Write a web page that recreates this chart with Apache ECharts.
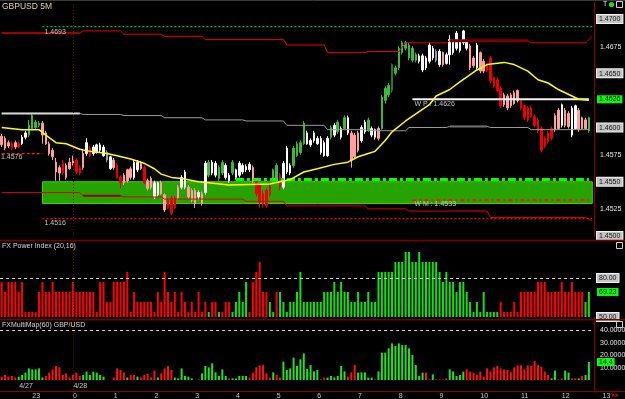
<!DOCTYPE html>
<html>
<head>
<meta charset="utf-8">
<title>GBPUSD 5M</title>
<script src="https://cdn.jsdelivr.net/npm/echarts@6/dist/echarts.min.js"></script>
<style>
  html, body { margin: 0; padding: 0; background: #000; }
  #chart { width: 625px; height: 399px; }
</style>
</head>
<body>
<div id="chart"></div>
<script>
// GBPUSD 5 minute bars, 4/27 22:15 .. 4/28 12:40
// [open, close, low, high]
var ohlc = [
  [1.4592,1.4584,1.4582,1.4594],[1.4590,1.4581,1.4579,1.4592],[1.4586,1.4583,1.4581,1.4588],[1.4585,1.4581,1.4579,1.4587],
  [1.4586,1.4582,1.4580,1.4588],[1.4585,1.4582,1.4581,1.4587],[1.4585,1.4591,1.4584,1.4593],[1.4591,1.4595,1.4589,1.4597],
  [1.4593,1.4602,1.4591,1.4607],[1.4599,1.4611,1.4598,1.4613],[1.4600,1.4605,1.4598,1.4607],[1.4602,1.4604,1.4600,1.4606],
  [1.4604,1.4593,1.4585,1.4606],[1.4595,1.4585,1.4584,1.4597],[1.4585,1.4576,1.4574,1.4587],[1.4579,1.4573,1.4570,1.4581],
  [1.4568,1.4559,1.4551,1.4572],[1.4563,1.4558,1.4551,1.4565],[1.4567,1.4558,1.4556,1.4570],[1.4565,1.4554,1.4552,1.4567],
  [1.4568,1.4562,1.4561,1.4572],[1.4570,1.4567,1.4565,1.4574],[1.4570,1.4559,1.4557,1.4572],[1.4563,1.4558,1.4556,1.4565],
  [1.4576,1.4563,1.4561,1.4579],[1.4576,1.4586,1.4574,1.4590],[1.4581,1.4574,1.4573,1.4583],[1.4576,1.4582,1.4574,1.4584],
  [1.4577,1.4584,1.4576,1.4585],[1.4579,1.4584,1.4577,1.4586],[1.4574,1.4582,1.4573,1.4584],[1.4577,1.4570,1.4568,1.4579],
  [1.4562,1.4573,1.4561,1.4574],[1.4570,1.4563,1.4561,1.4572],[1.4565,1.4554,1.4553,1.4567],[1.4554,1.4549,1.4544,1.4556],
  [1.4556,1.4549,1.4547,1.4558],[1.4561,1.4551,1.4549,1.4562],[1.4562,1.4554,1.4552,1.4564],[1.4554,1.4568,1.4552,1.4570],
  [1.4561,1.4568,1.4559,1.4570],[1.4567,1.4562,1.4561,1.4569],[1.4563,1.4549,1.4548,1.4565],[1.4551,1.4544,1.4542,1.4553],
  [1.4553,1.4545,1.4543,1.4555],[1.4536,1.4549,1.4534,1.4551],[1.4538,1.4549,1.4536,1.4550],[1.4549,1.4539,1.4538,1.4551],
  [1.4538,1.4524,1.4522,1.4539],[1.4533,1.4526,1.4525,1.4535],[1.4535,1.4521,1.4519,1.4537],[1.4535,1.4526,1.4525,1.4537],
  [1.4545,1.4535,1.4533,1.4547],[1.4545,1.4554,1.4543,1.4556],[1.4545,1.4559,1.4543,1.4561],[1.4545,1.4536,1.4534,1.4547],
  [1.4542,1.4533,1.4531,1.4544],[1.4542,1.4530,1.4526,1.4544],[1.4536,1.4540,1.4533,1.4542],[1.4539,1.4530,1.4528,1.4541],
  [1.4540,1.4567,1.4538,1.4569],[1.4556,1.4568,1.4554,1.4570],[1.4558,1.4568,1.4556,1.4570],[1.4556,1.4567,1.4554,1.4569],
  [1.4553,1.4563,1.4551,1.4565],[1.4558,1.4568,1.4556,1.4570],[1.4554,1.4565,1.4552,1.4567],[1.4551,1.4556,1.4549,1.4558],
  [1.4558,1.4568,1.4556,1.4570],[1.4554,1.4561,1.4552,1.4562],[1.4556,1.4567,1.4554,1.4569],[1.4559,1.4565,1.4557,1.4567],
  [1.4561,1.4564,1.4559,1.4566],[1.4561,1.4566,1.4559,1.4568],[1.4563,1.4551,1.4549,1.4565],[1.4551,1.4539,1.4536,1.4553],
  [1.4547,1.4531,1.4526,1.4549],[1.4539,1.4530,1.4526,1.4542],[1.4542,1.4528,1.4526,1.4544],[1.4547,1.4538,1.4536,1.4549],
  [1.4551,1.4561,1.4549,1.4562],[1.4551,1.4565,1.4549,1.4567],[1.4556,1.4545,1.4542,1.4558],[1.4545,1.4567,1.4543,1.4569],
  [1.4559,1.4581,1.4557,1.4583],[1.4558,1.4565,1.4556,1.4567],[1.4565,1.4581,1.4563,1.4583],[1.4574,1.4585,1.4573,1.4587],
  [1.4577,1.4586,1.4575,1.4588],[1.4585,1.4604,1.4584,1.4606],[1.4585,1.4595,1.4584,1.4597],[1.4584,1.4588,1.4582,1.4590],
  [1.4588,1.4595,1.4586,1.4597],[1.4585,1.4590,1.4584,1.4592],[1.4577,1.4590,1.4575,1.4592],[1.4574,1.4586,1.4573,1.4588],
  [1.4574,1.4590,1.4573,1.4592],[1.4591,1.4600,1.4589,1.4602],[1.4593,1.4602,1.4591,1.4604],[1.4596,1.4605,1.4594,1.4607],
  [1.4591,1.4599,1.4589,1.4601],[1.4599,1.4609,1.4598,1.4611],[1.4595,1.4609,1.4593,1.4611],[1.4595,1.4570,1.4563,1.4597],
  [1.4593,1.4573,1.4571,1.4595],[1.4595,1.4579,1.4577,1.4597],[1.4588,1.4600,1.4586,1.4602],[1.4596,1.4605,1.4594,1.4607],
  [1.4598,1.4607,1.4596,1.4609],[1.4593,1.4599,1.4591,1.4601],[1.4591,1.4598,1.4589,1.4599],[1.4599,1.4590,1.4588,1.4601],
  [1.4599,1.4628,1.4598,1.4630],[1.4625,1.4636,1.4622,1.4638],[1.4630,1.4639,1.4628,1.4641],[1.4634,1.4658,1.4632,1.4659],
  [1.4650,1.4655,1.4648,1.4657],[1.4655,1.4673,1.4653,1.4675],[1.4669,1.4678,1.4667,1.4680],[1.4673,1.4678,1.4671,1.4680],
  [1.4664,1.4676,1.4662,1.4678],[1.4662,1.4673,1.4660,1.4675],[1.4662,1.4667,1.4660,1.4669],[1.4661,1.4666,1.4659,1.4668],
  [1.4653,1.4666,1.4651,1.4668],[1.4655,1.4664,1.4653,1.4666],[1.4661,1.4676,1.4659,1.4678],[1.4664,1.4673,1.4662,1.4675],
  [1.4670,1.4662,1.4660,1.4672],[1.4658,1.4670,1.4656,1.4672],[1.4669,1.4658,1.4656,1.4670],[1.4659,1.4667,1.4658,1.4669],
  [1.4667,1.4681,1.4658,1.4685],[1.4669,1.4679,1.4667,1.4681],[1.4673,1.4687,1.4671,1.4689],[1.4671,1.4680,1.4669,1.4681],
  [1.4678,1.4689,1.4676,1.4690],[1.4673,1.4680,1.4671,1.4681],[1.4675,1.4655,1.4653,1.4677],[1.4664,1.4657,1.4655,1.4666],
  [1.4655,1.4676,1.4653,1.4678],[1.4669,1.4652,1.4650,1.4670],[1.4661,1.4652,1.4650,1.4663],[1.4658,1.4653,1.4651,1.4659],
  [1.4664,1.4643,1.4641,1.4666],[1.4646,1.4638,1.4636,1.4647],[1.4644,1.4634,1.4633,1.4646],[1.4636,1.4620,1.4618,1.4638],
  [1.4630,1.4621,1.4619,1.4632],[1.4629,1.4618,1.4616,1.4631],[1.4630,1.4620,1.4618,1.4632],[1.4632,1.4622,1.4621,1.4634],
  [1.4634,1.4625,1.4623,1.4635],[1.4625,1.4618,1.4616,1.4627],[1.4620,1.4609,1.4607,1.4621],[1.4618,1.4607,1.4605,1.4620],
  [1.4618,1.4610,1.4609,1.4620],[1.4610,1.4602,1.4600,1.4612],[1.4607,1.4597,1.4595,1.4609],[1.4599,1.4579,1.4577,1.4601],
  [1.4590,1.4583,1.4581,1.4592],[1.4595,1.4587,1.4585,1.4597],[1.4599,1.4590,1.4588,1.4601],[1.4611,1.4598,1.4596,1.4613],
  [1.4616,1.4599,1.4598,1.4618],[1.4602,1.4621,1.4600,1.4622],[1.4616,1.4602,1.4600,1.4618],[1.4613,1.4601,1.4599,1.4615],
  [1.4593,1.4618,1.4591,1.4620],[1.4599,1.4620,1.4598,1.4621],[1.4616,1.4598,1.4596,1.4618],[1.4609,1.4599,1.4598,1.4610],
  [1.4607,1.4599,1.4598,1.4609],[1.4597,1.4609,1.4595,1.4610]
];
// candle tone: p pink, r red, w white, g green, d dark green, s grey
var candleTone =
  'ppprprwwgg' + 'ggpppppprp' + 'pprrpwrwww' + 'wswprrpppw' + 'wprppwwppr' +
  'rrpwwpppwp' + 'wgwwggwwgw' + 'wwwwprrrrr' + 'ggrwwwgggg' + 'wwwwwwwgwg' +
  'wgwpppwwgw' + 'wpgggdgggg' + 'gggwwwwwsw' + 'pwwwwwwwpp' + 'wpprrrrrpp' +
  'ppprrrrrrr' + 'rrrppwppww' + 'pppg';

// moving average (bar index, price)
var maLine = [
  [0,1.4600],[6,1.4598],[11,1.4598],[13,1.4593],[16,1.4586],[19,1.4585],[23,1.4580],[26,1.4578],
  [31,1.4576],[34,1.4574],[38,1.4571],[42,1.4567],[45,1.4562],[47,1.4557],[50,1.4554],[53,1.4553],
  [58,1.4550],[61,1.4549],[67,1.4547],[79,1.4548],[85,1.4552],[89,1.4559],[93,1.4562],[98,1.4566],
  [102,1.4568],[105,1.4573],[108,1.4576],[110,1.4578],[113,1.4588],[115,1.4596],[119,1.4606],[126,1.4621],
  [128,1.4629],[132,1.4635],[135,1.4642],[140,1.4653],[143,1.4658],[148,1.4660],[151,1.4658],[155,1.4652],
  [158,1.4644],[161,1.4641],[164,1.4635],[168,1.4629],[170,1.4626],[173,1.4625]
];

// stepped levels: [first bar, last bar, price]
var upperSteps = [[0,23,1.4687],[24,35,1.4689],[36,47,1.4686],[48,59,1.4684],[60,83,1.4681],[84,95,1.4676],
  [96,107,1.4669],[108,117,1.4670],[119,131,1.4678],[132,155,1.4680],[156,172,1.4678],[174,174,1.4684]];
var middleSteps = [[0,23,1.4613],[24,35,1.4612],[36,47,1.4611],[48,59,1.4609],[60,71,1.4607],[72,83,1.4606],
  [84,95,1.4602],[96,107,1.4598],[108,119,1.4597],[120,131,1.4600],[132,143,1.4601],[144,155,1.4600],[156,173,1.4598]];
var lowerSteps = [[0,23,1.4540],[24,35,1.4537],[36,47,1.4536],[48,71,1.4534],[72,83,1.4532],[84,107,1.4528],
  [108,119,1.4525],[120,131,1.4523],[132,143,1.4523],[144,172,1.4517],[174,174,1.4514]];

var prevHigh = 1.4693, prevLow = 1.4516, prevClose = 1.4576;
var zoneTop = 1.4550, zoneBottom = 1.4530, zoneLine = 1.4552;
var wpLevel = 1.4626, wmLevel = 1.4533, lastQuote = 1.4626;

// FX Power Index (20,16)
var powerIdx = [
  76.92,69.23,76.92,76.92,76.92,69.23,76.92,53.85,53.85,53.85,
  53.85,69.23,76.92,69.23,69.23,76.92,69.23,69.23,69.23,69.23,
  69.23,76.92,69.23,69.23,69.23,69.23,69.23,69.23,53.85,76.92,
  76.92,61.54,61.54,76.92,76.92,76.92,76.92,84.62,53.85,69.23,
  61.54,61.54,61.54,61.54,61.54,53.85,69.23,61.54,84.62,69.23,
  61.54,69.23,53.85,69.23,61.54,53.85,61.54,53.85,69.23,53.85,
  61.54,53.85,61.54,61.54,53.85,53.85,61.54,61.54,53.85,61.54,
  69.23,61.54,76.92,53.85,76.92,84.62,92.31,69.23,69.23,61.54,
  53.85,69.23,69.23,61.54,53.85,61.54,61.54,69.23,84.62,61.54,
  61.54,61.54,61.54,61.54,61.54,69.23,69.23,69.23,76.92,69.23,
  76.92,69.23,69.23,61.54,61.54,69.23,61.54,61.54,69.23,61.54,
  61.54,84.62,84.62,84.62,84.62,84.62,92.31,92.31,92.31,100,
  100,92.31,92.31,100,92.31,92.31,92.31,92.31,92.31,84.62,
  76.92,84.62,76.92,76.92,69.23,76.92,76.92,69.23,61.54,53.85,
  61.54,53.85,69.23,53.85,53.85,53.85,53.85,61.54,53.85,53.85,
  53.85,61.54,53.85,69.23,69.23,69.23,69.23,69.23,76.92,76.92,
  76.92,69.23,69.23,69.23,69.23,76.92,69.23,69.23,76.92,69.23,
  69.23,69.23,61.54,69.23
];
var powerSide =
  'rrrrrrrrrr' + 'rrrrrrrrrr' + 'rrrrrrrrrr' + 'rrrrrrrrrr' + 'rrrrrrrrrr' +
  'rrrrrrrrrr' + 'rgrrgrrrgg' + 'gggrrrrrrg' + 'grgggggggg' + 'gggggggggg' +
  'gggggggggg' + 'gggggggggg' + 'gggggggggg' + 'gggggggggg' + 'gggggggrrr' +
  'rrrrrrrrrr' + 'rrrrrrrrrr' + 'rrgg';

// FXMultiMap(60) GBP/USD
var multiMap = [
  2.7,4,2.7,3.2,2,2.7,4,5.9,9.3,8.5,
  8.5,9.3,2,3.2,5.9,8.5,11.2,10.1,4,5.3,
  2,4,5.9,3.2,4,6.7,4,6.7,5.9,4,
  2.7,0,0,2,9.3,8,5.9,2,4,4,
  2.7,2,4,4.8,2,7.5,2,5.3,9.3,11.2,
  8,2,1.3,9.3,3.2,2.7,1.3,0,0.5,5.3,
  11.2,10.1,13.3,6.1,3.2,8.5,3.2,1.3,1.3,1.3,
  3.2,3.2,3.2,1.9,5.9,10.1,11.7,12,5.3,1.9,
  6.1,4,2,14.7,8,9.3,17.9,11.2,16.5,21.3,
  8.8,12,6.9,8,0.5,1.9,1.9,3.2,2,3.2,
  11.2,6.9,2.7,6.1,12,5.9,6.1,6.1,1.9,1.9,
  0.5,6.9,21.9,21.9,25.3,29.3,27.2,29.3,28,28,
  25.3,20,12,3.2,5.9,5.9,0.5,4.5,0.5,0.5,
  0.5,1.3,8.5,6.9,3.2,4,6.7,8.5,6.7,5.9,
  4,6.7,2.7,9.3,6.9,10.1,11.2,9.3,8.5,8,
  6.1,10.1,11.7,11.7,8.5,11.7,11.2,15.2,12,10.7,
  6.7,4,1.3,7.5,0.5,1.3,7.5,5.9,1.3,1.3,
  1.3,3.2,4,14.4
];
var multiSide =
  'rrrrrggggg' + 'gggrrrrrrr' + 'rrrrgggggg' + 'grrrrrrgrr' + 'grrrrrgrrr' +
  'rggggggrrg' + 'gggggggrgg' + 'gggrrrrrrr' + 'grrggggggg' + 'ggggrrgggg' +
  'ggrrrggggg' + 'rggggggggg' + 'gggggrrgrr' + 'rrgggggrrr' + 'rrrrrrrrrr' +
  'rrrrrrrrrr' + 'rrggrrggrr' + 'grgg';

// axis labels
var boxedPrices = ['1.4700', '1.4650', '1.4600', '1.4550', '1.4500'];
var plainPrices = ['1.4675', '1.4575', '1.4525'];
var powerLabels = [80, 50];
var multiLabels = [10, 20, 30, 40];
var dayLabels = [['4/27', 5], ['4/28', 21]];

// ---------------------------------------------------------------
var SLOTS = 175, TIME_SLOTS = 184;
var BAND = 594 / SLOTS;
function slotName(i) {
  var m = (22 * 60 + 15 + 5 * i) % 1440;
  var h = Math.floor(m / 60), mm = m % 60;
  return (h < 10 ? '0' : '') + h + ':' + (mm < 10 ? '0' : '') + mm;
}
var cats = [], tcats = [];
for (var i = 0; i < TIME_SLOTS; i++) {
  tcats.push(slotName(i));
  if (i < SLOTS) cats.push(slotName(i));
}

var FONT = 'Liberation Sans, Arial, sans-serif';
var toneColor = { p: '#ffa0a0', r: '#ee0000', w: '#ffffff', g: '#3cb83c', d: '#1e7f1e', s: '#9c9c9c' };

function stepPoints(segs) {
  var pts = [];
  segs.forEach(function (s) {
    pts.push([cats[s[0]], s[2]]);
    if (s[1] !== s[0]) pts.push([cats[s[1]], s[2]]);
  });
  return pts;
}
function priceLine(data, color, width, type, z) {
  return {
    type: 'line', xAxisIndex: 0, yAxisIndex: 0, data: data,
    symbol: 'none', showSymbol: false, silent: true, z: z || 3,
    lineStyle: { color: color, width: width, type: type || 'solid' }
  };
}
function flat(from, to, price) { return [[cats[from], price], [cats[to], price]]; }

var daySplit = {
  symbol: 'none', silent: true, label: { show: false },
  lineStyle: { color: '#8b0000', type: [1, 2], width: 1 },
  data: [{ xAxis: cats[21] }]
};
// price tag at the right edge of a panel (invisible line, visible label)
function quoteTag(value, text) {
  return {
    yAxis: value,
    lineStyle: { color: 'rgba(0,0,0,0)', width: 0 },
    label: {
      show: true, position: 'end', distance: 3, formatter: text,
      backgroundColor: '#00ff00', color: '#000', fontSize: 7, fontFamily: FONT,
      padding: [1, 2, 0, 2]
    }
  };
}

var candleData = ohlc.map(function (r, i) {
  var c = toneColor[candleTone[i]];
  return { value: r, itemStyle: { color: c, color0: c, borderColor: c, borderColor0: c, borderWidth: 1 } };
});

var lastPower = powerIdx[powerIdx.length - 1];
var lastMulti = multiMap[multiMap.length - 1];

var series = [
  // support zone
  {
    type: 'line', xAxisIndex: 0, yAxisIndex: 0, data: [[cats[12], zoneTop]],
    symbol: 'none', lineStyle: { opacity: 0 }, silent: true, z: 1,
    markArea: {
      silent: true,
      itemStyle: { color: '#26a300', borderColor: '#44d400', borderWidth: 1 },
      data: [[{ xAxis: cats[12], yAxis: zoneTop }, { xAxis: cats[174], yAxis: zoneBottom }]]
    }
  },
  {
    type: 'candlestick', xAxisIndex: 0, yAxisIndex: 0, data: candleData,
    barWidth: 2, z: 2, silent: true,
    markLine: daySplit
  },
  priceLine(stepPoints(upperSteps), '#ee0000', 1),
  priceLine(stepPoints([upperSteps[0]]), '#a00000', 2),
  priceLine(stepPoints([upperSteps[9]]), '#800000', 3),
  priceLine(stepPoints(middleSteps), '#9a9a9a', 1),
  priceLine(stepPoints([middleSteps[0]]), '#d8d8d8', 2),
  priceLine(stepPoints([middleSteps[10]]), '#707070', 2),
  priceLine(stepPoints(lowerSteps), '#e00000', 1),
  priceLine(stepPoints([lowerSteps[1]]), '#9a0000', 2),
  priceLine(stepPoints([lowerSteps[5]]), '#7a0000', 2),
  priceLine(stepPoints([lowerSteps[8]]), '#7a0000', 2),
  priceLine(flat(12, 174, prevHigh), '#00c000', 1.3, [2, 2]),
  priceLine(flat(12, 174, prevLow), '#ff0000', 1.3, [2, 2]),
  priceLine(flat(0, 12, prevClose), '#ff2020', 1.2, [3, 2]),
  priceLine(flat(69, 173, zoneLine), '#00ff00', 3, [8, 3, 3, 3]),
  priceLine(flat(121, 173, wmLevel), '#ff1010', 2, [4, 3, 2, 3]),
  priceLine(flat(121, 173, wpLevel), '#f4f4f4', 2),
  {
    type: 'line', xAxisIndex: 0, yAxisIndex: 0, z: 4, silent: true,
    data: maLine.map(function (p) { return [cats[p[0]], p[1]]; }),
    symbol: 'none', lineStyle: { color: '#ffff00', width: 1.5 },
    markLine: { symbol: 'none', silent: true, precision: 4, data: [quoteTag(lastQuote, lastQuote.toFixed(4))] }
  },
  {
    type: 'bar', xAxisIndex: 1, yAxisIndex: 1, barWidth: 2, silent: true,
    data: powerIdx.map(function (v, i) {
      return { value: v, itemStyle: { color: powerSide[i] === 'g' ? '#10e010' : '#ff0000' } };
    }),
    markLine: {
      symbol: 'none', silent: true, precision: 2,
      data: [
        { yAxis: 80, label: { show: false }, lineStyle: { color: '#cfcfcf', type: [3, 3], width: 1 } },
        quoteTag(lastPower, lastPower.toFixed(2)),
        { xAxis: cats[21], label: { show: false }, lineStyle: { color: '#8b0000', type: [1, 2], width: 1 } }
      ]
    }
  },
  {
    type: 'bar', xAxisIndex: 2, yAxisIndex: 2, barWidth: 2, silent: true,
    data: multiMap.map(function (v, i) {
      return { value: v, itemStyle: { color: multiSide[i] === 'g' ? '#22e022' : '#ff1010' } };
    }),
    markLine: {
      symbol: 'none', silent: true, precision: 2,
      data: [
        { yAxis: 40, label: { show: false }, lineStyle: { color: '#cfcfcf', type: [3, 3], width: 1 } },
        quoteTag(lastMulti, String(lastMulti)),
        { xAxis: cats[21], label: { show: false }, lineStyle: { color: '#8b0000', type: [1, 2], width: 1 } }
      ]
    }
  }
];

var labelRich = {
  b: { backgroundColor: '#c4c4c4', color: '#111', borderColor: '#f0f0f0', borderWidth: 1,
       padding: [1, 2, 0, 2], fontSize: 7, fontFamily: FONT },
  n: { color: '#e6e6e6', padding: [1, 3, 0, 3], fontSize: 7, fontFamily: FONT }
};

function hiddenX(grid) {
  return { type: 'category', gridIndex: grid, data: cats, show: false };
}

var option = {
  backgroundColor: '#000',
  animation: false,
  grid: [
    { left: 0, top: 2.7, width: 594, height: 233.3, outerBoundsMode: 'none' },
    { left: 0, top: 239, width: 594, height: 78, outerBoundsMode: 'none' },
    { left: 0, top: 317.5, width: 594, height: 75, outerBoundsMode: 'none' },
    { left: 0, top: 390, width: BAND * TIME_SLOTS, height: 1, outerBoundsMode: 'none' }
  ],
  xAxis: [
    hiddenX(0), hiddenX(1), hiddenX(2),
    {
      type: 'category', gridIndex: 3, data: tcats, position: 'bottom',
      axisLine: { lineStyle: { color: '#8b0000', width: 1 } },
      axisTick: { alignWithLabel: true, length: 3, lineStyle: { color: '#8b0000' },
                  interval: function (idx) { return (idx - 3) % 6 === 0; } },
      axisLabel: {
        interval: function (idx) { return (idx - 9) % 12 === 0; },
        formatter: function (v) { return String(parseInt(v, 10)); },
        color: '#c8c8c8', fontSize: 7, fontFamily: FONT, margin: 2, align: 'left'
      },
      splitLine: { show: false }
    }
  ],
  yAxis: [
    {
      type: 'value', gridIndex: 0, position: 'right', min: 1.45, max: 1.4715, interval: 0.0025,
      axisLine: { show: true, lineStyle: { color: '#8b0000', width: 1 } },
      axisTick: { show: false }, splitLine: { show: false },
      axisLabel: {
        margin: 3, rich: labelRich,
        formatter: function (v) {
          var s = v.toFixed(4);
          if (boxedPrices.indexOf(s) >= 0) return '{b|' + s + '}';
          if (plainPrices.indexOf(s) >= 0) return '{n|' + s + '}';
          return '';
        }
      }
    },
    {
      type: 'value', gridIndex: 1, position: 'right', min: 50, max: 110, interval: 10,
      axisLine: { show: false }, axisTick: { show: false }, splitLine: { show: false },
      axisLabel: {
        margin: 3, rich: labelRich,
        formatter: function (v) { return powerLabels.indexOf(v) >= 0 ? '{b|' + v.toFixed(2) + '}' : ''; }
      }
    },
    {
      type: 'value', gridIndex: 2, position: 'right', min: -10, max: 50, interval: 10,
      axisLine: { show: true, lineStyle: { color: '#8b0000', width: 1 } },
      axisTick: { show: false }, splitLine: { show: false },
      axisLabel: {
        margin: 3, rich: labelRich,
        formatter: function (v) { return multiLabels.indexOf(v) >= 0 ? '{n|' + v.toFixed(4) + '}' : ''; }
      }
    },
    { type: 'value', gridIndex: 3, show: false }
  ],
  series: series
};

var chart = echarts.init(document.getElementById('chart'));
chart.setOption(option);

// labels tied to the scales
function at(cat, price) { return chart.convertToPixel({ gridIndex: 0 }, [cat, price]); }
function smallText(x, y, text, color) {
  return { type: 'text', x: x, y: y, silent: true, z: 20,
           style: { text: text, fill: color || '#c4c4c4', fontSize: 7, fontFamily: FONT, textVerticalAlign: 'top' } };
}
var pHigh = at(cats[12], prevHigh), pLow = at(cats[12], prevLow), pClose = at(cats[0], prevClose);
var pWp = at(cats[121], wpLevel), pWm = at(cats[121], wmLevel);
var graphics = [
  smallText(pHigh[0] + 2, pHigh[1] + 1.5, prevHigh.toFixed(4)),
  smallText(pLow[0] + 2, pLow[1] + 0.5, prevLow.toFixed(4)),
  smallText(1, pClose[1] + 0.5, prevClose.toFixed(4)),
  smallText(pWp[0] + 2, pWp[1] + 0.8, 'W P : ' + wpLevel.toFixed(4)),
  smallText(pWm[0] + 2, pWm[1] + 0.8, 'W M : ' + wmLevel.toFixed(4)),
  { type: 'text', x: 2, y: 2, silent: true, z: 20,
    style: { text: 'GBPUSD 5M', fill: '#e6cfa2', fontSize: 8.5, fontFamily: FONT, textVerticalAlign: 'top' } },
  smallText(2, 242.5, 'FX Power Index (20,16)', '#d4d4d4'),
  smallText(2, 321.5, 'FXMultiMap(60) GBP/USD', '#d4d4d4'),
  // panel separators and frame
  { type: 'line', silent: true, z: 15, shape: { x1: 0, y1: 240.5, x2: 625, y2: 240.5 }, style: { stroke: '#7a0000', lineWidth: 1.5 } },
  { type: 'line', silent: true, z: 15, shape: { x1: 0, y1: 319.8, x2: 625, y2: 319.8 }, style: { stroke: '#7a0000', lineWidth: 1.5 } },
  { type: 'line', silent: true, z: 15, shape: { x1: 0, y1: 0.5, x2: 625, y2: 0.5 }, style: { stroke: '#3a3a3a', lineWidth: 1 } },
  // terminal icons
  { type: 'text', x: 603, y: 1, silent: true, z: 20, style: { text: 'T', fill: '#e0e0e0', fontSize: 7, fontFamily: FONT, textVerticalAlign: 'top' } },
  { type: 'circle', silent: true, z: 20, shape: { cx: 611.5, cy: 4.5, r: 2.6 }, style: { fill: '#22dd22' } },
  { type: 'rect', silent: true, z: 20, shape: { x: 616.5, y: 1.5, width: 6, height: 6 }, style: { fill: '#000', stroke: '#cfcfcf', lineWidth: 1 } },
  { type: 'rect', silent: true, z: 20, shape: { x: 616.5, y: 242.5, width: 6, height: 6 }, style: { fill: '#000', stroke: '#cfcfcf', lineWidth: 1 } },
  { type: 'rect', silent: true, z: 20, shape: { x: 616.5, y: 321.5, width: 6, height: 6 }, style: { fill: '#000', stroke: '#cfcfcf', lineWidth: 1 } },
  { type: 'text', x: 612, y: 391.5, silent: true, z: 20, style: { text: '\u25B8\u25B8', fill: '#cc0000', fontSize: 7, fontFamily: 'DejaVu Sans', textVerticalAlign: 'top' } }
];
dayLabels.forEach(function (d) {
  var x = chart.convertToPixel({ xAxisIndex: 3 }, tcats[d[1]]);
  graphics.push(smallText(x + 0.5, 383, d[0], '#c8c8c8'));
});
chart.setOption({ graphic: graphics });
</script>
</body>
</html>
